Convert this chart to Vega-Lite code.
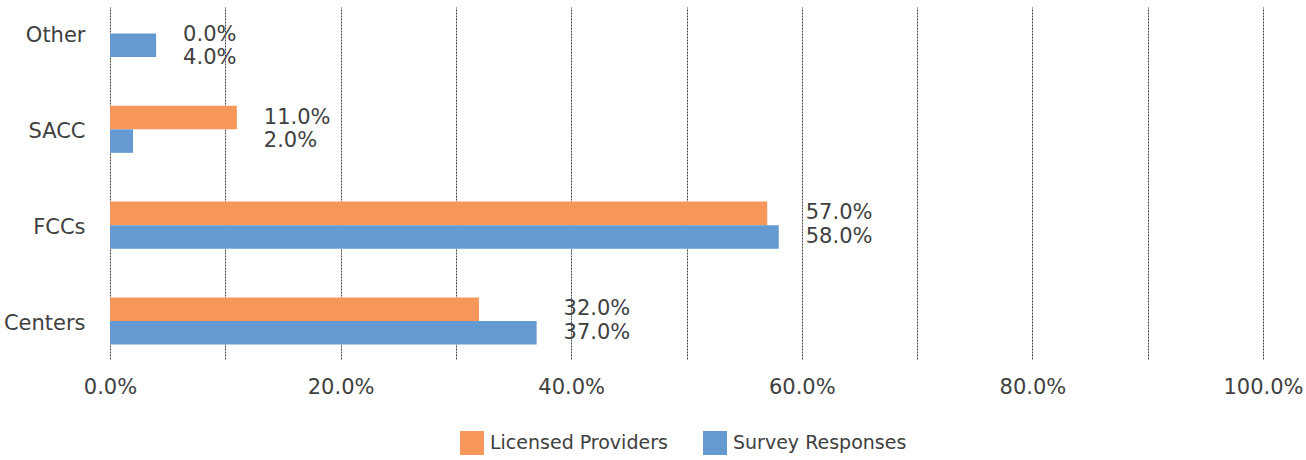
{
  "$schema": "https://vega.github.io/schema/vega-lite/v6.json",
  "width": 1153,
  "height": 352,
  "autosize": "none",
  "padding": {"left": 110, "top": 7, "right": 43, "bottom": 101},
  "background": "white",
  "config": {
    "view": {"stroke": null},
    "font": "DejaVu Sans",
    "text": {"font": "DejaVu Sans"}
  },
  "data": {
    "values": [
      {"Category": "Other", "Series": "Licensed Providers", "Value": 0.0},
      {"Category": "Other", "Series": "Survey Responses", "Value": 0.04},
      {"Category": "SACC", "Series": "Licensed Providers", "Value": 0.11},
      {"Category": "SACC", "Series": "Survey Responses", "Value": 0.02},
      {"Category": "FCCs", "Series": "Licensed Providers", "Value": 0.57},
      {"Category": "FCCs", "Series": "Survey Responses", "Value": 0.58},
      {"Category": "Centers", "Series": "Licensed Providers", "Value": 0.32},
      {"Category": "Centers", "Series": "Survey Responses", "Value": 0.37}
    ]
  },
  "encoding": {
    "y": {
      "field": "Category",
      "type": "nominal",
      "sort": ["Other", "SACC", "FCCs", "Centers"],
      "scale": {"paddingInner": 0.509, "paddingOuter": 0.0913, "align": 0.17},
      "axis": {
        "title": null,
        "domain": false,
        "ticks": false,
        "labelFontSize": 21,
        "labelColor": "#404040",
        "labelPadding": 25,
        "labelOffset": 3,
        "labelFont": "DejaVu Sans"
      }
    },
    "yOffset": {
      "field": "Series",
      "type": "nominal",
      "sort": ["Licensed Providers", "Survey Responses"],
      "scale": {"paddingInner": 0, "paddingOuter": 0}
    }
  },
  "layer": [
    {
      "mark": {"type": "bar"},
      "encoding": {
        "x": {
          "field": "Value",
          "type": "quantitative",
          "scale": {"domain": [0, 1], "nice": false},
          "axis": {
            "title": null,
            "values": [0, 0.1, 0.2, 0.3, 0.4, 0.5, 0.6, 0.7, 0.8, 0.9, 1.0],
            "labelExpr": "round(datum.value*100) % 20 == 0 ? format(datum.value, '.1%') : ''",
            "labelFlush": false,
            "labelOverlap": false,
            "domain": false,
            "ticks": false,
            "grid": true,
            "gridColor": "#444444",
            "gridDash": [2, 1],
            "gridWidth": 1,
            "labelFontSize": 21,
            "labelColor": "#404040",
            "labelPadding": 17,
            "labelFont": "DejaVu Sans"
          }
        },
        "color": {
          "field": "Series",
          "type": "nominal",
          "scale": {"domain": ["Licensed Providers", "Survey Responses"], "range": ["#F79759", "#6599D2"]},
          "legend": {
            "title": null,
            "orient": "none",
            "direction": "horizontal",
            "legendX": 350,
            "legendY": 424,
            "symbolType": "square",
            "symbolSize": 576,
            "symbolStrokeWidth": 0,
            "symbolOpacity": 1,
            "labelFontSize": 19,
            "labelColor": "#404040",
            "labelFont": "DejaVu Sans",
            "labelOffset": 6,
            "labelLimit": 400,
            "columnPadding": 35
          }
        }
      }
    },
    {
      "transform": [
        {"joinaggregate": [{"op": "max", "field": "Value", "as": "GroupMax"}], "groupby": ["Category"]},
        {"filter": "datum.Category != 'Other'"}
      ],
      "mark": {"type": "text", "align": "left", "baseline": "middle", "dx": 27, "fontSize": 21, "color": "#404040", "font": "DejaVu Sans"},
      "encoding": {
        "x": {"field": "GroupMax", "type": "quantitative"},
        "text": {"field": "Value", "type": "quantitative", "format": ".1%"}
      }
    },
    {
      "transform": [
        {"joinaggregate": [{"op": "max", "field": "Value", "as": "GroupMax"}], "groupby": ["Category"]},
        {"filter": "datum.Category == 'Other'"}
      ],
      "mark": {"type": "text", "align": "left", "baseline": "middle", "dx": 27, "dy": 13, "fontSize": 21, "color": "#404040", "font": "DejaVu Sans"},
      "encoding": {
        "x": {"field": "GroupMax", "type": "quantitative"},
        "text": {"field": "Value", "type": "quantitative", "format": ".1%"}
      }
    }
  ]
}
